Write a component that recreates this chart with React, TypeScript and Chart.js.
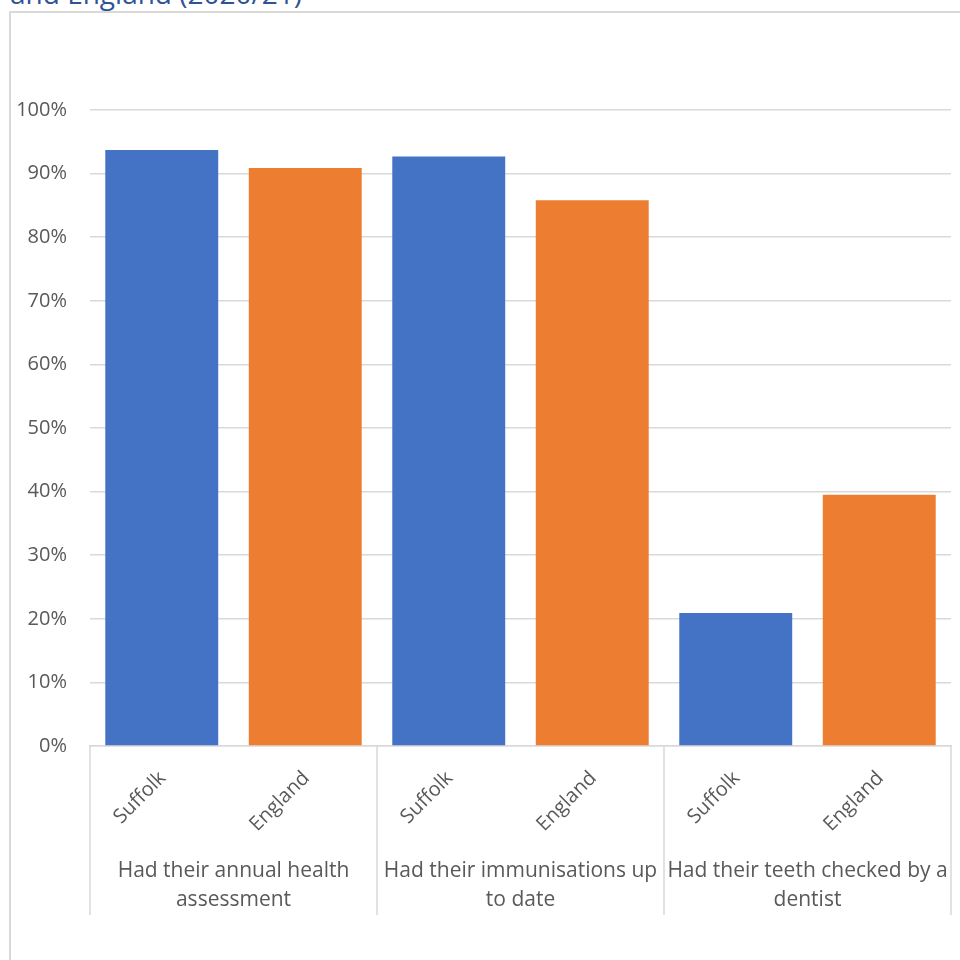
import React, { useEffect, useRef } from "react";
import { Chart, registerables } from "chart.js";

Chart.register(...registerables);

// Outcome groups (each split into wrapped lines) and the two areas compared in each
const outcomeGroups: string[][] = [
  ["Had their annual health", "assessment"],
  ["Had their immunisations up", "to date"],
  ["Had their teeth checked by a", "dentist"],
];
const areas = ["Suffolk", "England"];

// Percentage of looked-after children, per outcome
const suffolkValues = [93.7, 92.7, 20.9];
const englandValues = [90.9, 85.8, 39.5];

const yMin = 0;
const yMax = 100;
const yStep = 10;

const titleText = "and England (2020/21)";

const BLUE = "#4472C4";
const ORANGE = "#ED7D31";
const GRID = "#D9D9D9";
const TEXT = "#595959";
const FONT = "'Open Sans', 'Noto Sans', sans-serif";

const barLabels: string[] = [];
const barValues: number[] = [];
const barColors: string[] = [];
outcomeGroups.forEach((_, g) => {
  barLabels.push(areas[0], areas[1]);
  barValues.push(suffolkValues[g], englandValues[g]);
  barColors.push(BLUE, ORANGE);
});

// Draws the two-level category axis: rotated area names and wrapped group names
const groupAxisPlugin = {
  id: "groupAxis",
  afterDraw(chart: any) {
    const { ctx, chartArea, scales } = chart;
    const xScale = scales.x;
    const slot = (chartArea.right - chartArea.left) / barLabels.length;
    const base = chartArea.bottom;
    ctx.save();
    ctx.fillStyle = TEXT;

    ctx.font = `20px ${FONT}`;
    barLabels.forEach((label, i) => {
      const px = xScale.getPixelForValue(i);
      ctx.save();
      ctx.translate(px + 1, base + 29);
      ctx.rotate(-Math.PI / 4);
      ctx.textAlign = "right";
      ctx.textBaseline = "middle";
      ctx.fillText(label, 0, 0);
      ctx.restore();
    });

    ctx.strokeStyle = GRID;
    ctx.lineWidth = 1.5;
    for (let g = 0; g <= outcomeGroups.length; g++) {
      const gx = chartArea.left + g * areas.length * slot;
      ctx.beginPath();
      ctx.moveTo(gx, base);
      ctx.lineTo(gx, base + 169);
      ctx.stroke();
    }

    ctx.font = `21px ${FONT}`;
    ctx.textAlign = "center";
    ctx.textBaseline = "alphabetic";
    outcomeGroups.forEach((lines, g) => {
      const cx = chartArea.left + (g + 0.5) * areas.length * slot;
      lines.forEach((line, k) => {
        ctx.fillText(line, cx, base + 131 + k * 29);
      });
    });
    ctx.restore();
  },
};

function HealthChecksChart() {
  const canvasRef = useRef<HTMLCanvasElement | null>(null);

  useEffect(() => {
    if (!canvasRef.current) return;
    const chart = new Chart(canvasRef.current, {
      type: "bar",
      data: {
        labels: barLabels,
        datasets: [
          {
            label: "Percentage",
            data: barValues,
            backgroundColor: barColors,
            borderWidth: 0,
            barPercentage: 0.787,
            categoryPercentage: 1,
          },
        ],
      },
      options: {
        animation: false,
        responsive: false,
        maintainAspectRatio: false,
        layout: { padding: { top: 110, right: 9, bottom: 0, left: 0 } },
        plugins: {
          legend: { display: false },
          tooltip: { enabled: false },
          title: { display: false },
        },
        scales: {
          x: {
            grid: { display: false, drawTicks: false },
            border: { display: true, color: GRID, width: 1.5 },
            ticks: { display: false },
            afterFit: (scale: any) => {
              scale.height = 214;
            },
          },
          y: {
            min: yMin,
            max: yMax,
            grid: { color: GRID, lineWidth: 1.5, drawTicks: false },
            border: { display: false },
            ticks: {
              stepSize: yStep,
              padding: 23,
              color: TEXT,
              font: { family: FONT, size: 20 },
              callback: (v: any) => `${v}%`,
            },
            afterFit: (scale: any) => {
              scale.width = 90;
            },
          },
        },
      },
      plugins: [groupAxisPlugin],
    });
    return () => chart.destroy();
  }, []);

  return (
    <canvas
      ref={canvasRef}
      width={960}
      height={960}
      style={{ position: "absolute", left: 0, top: 0, width: 960, height: 960 }}
    />
  );
}

export default function App() {
  return (
    <div
      style={{
        position: "fixed",
        left: 0,
        top: 0,
        width: 960,
        height: 960,
        overflow: "hidden",
        background: "#ffffff",
      }}
    >
      <div
        style={{
          position: "absolute",
          left: 9,
          top: 11,
          width: 1000,
          height: 1000,
          border: `2px solid ${GRID}`,
          boxSizing: "border-box",
        }}
      />
      <div
        style={{
          position: "absolute",
          left: 10,
          top: -21,
          fontFamily: FONT,
          fontSize: 28,
          lineHeight: "28px",
          color: "#2F5496",
          whiteSpace: "nowrap",
        }}
      >
        {titleText}
      </div>
      <HealthChecksChart />
    </div>
  );
}
